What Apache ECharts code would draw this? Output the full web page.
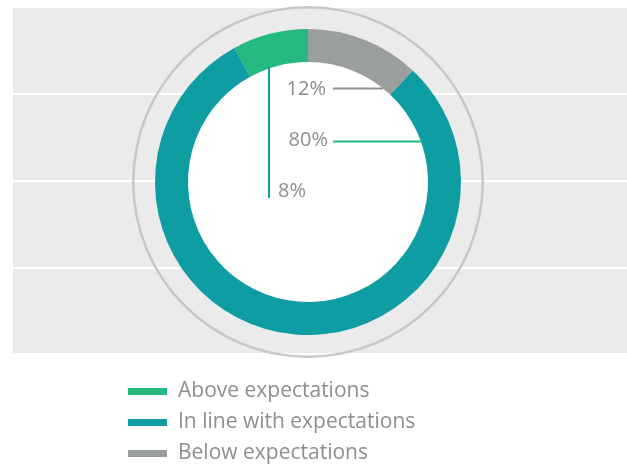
<!DOCTYPE html>
<html>
<head>
<meta charset="utf-8">
<script src="https://cdn.jsdelivr.net/npm/echarts@6/dist/echarts.min.js"></script>
<style>
  html, body { margin: 0; padding: 0; background: #ffffff; }
  #chart { width: 627px; height: 465px; }
</style>
</head>
<body>
<div id="chart"></div>
<script>
// Survey outcome shares (percent)
const categories = ['Above expectations', 'In line with expectations', 'Below expectations'];
const shares = [8, 80, 12];
const colors = ['#25b97f', '#0e9da3', '#9a9e9d'];

// Background bands behind the donut
const bandTicks = [0, 1, 2, 3, 4];

const chart = echarts.init(document.getElementById('chart'), null, { renderer: 'canvas' });

const labelFont = '"Open Sans", Lato, sans-serif';
const textGrey = '#8b8f8e';

const pct = v => v + '%';

const option = {
  animation: false,
  backgroundColor: '#ffffff',
  grid: {
    left: 13, right: 0, top: 7, bottom: 111,
    show: true, backgroundColor: '#ebebeb', borderWidth: 0
  },
  xAxis: { type: 'value', show: false, min: 0, max: 1 },
  yAxis: {
    type: 'value',
    min: bandTicks[0], max: bandTicks[bandTicks.length - 1], interval: 1,
    axisLine: { show: false }, axisTick: { show: false }, axisLabel: { show: false },
    splitLine: { show: true, lineStyle: { color: '#ffffff', width: 2 } }
  },
  legend: {
    orient: 'vertical',
    left: 128, top: 380, height: 90,
    padding: 0,
    icon: 'rect',
    itemWidth: 39, itemHeight: 7,
    itemGap: 8,
    data: categories,
    textStyle: { color: textGrey, fontSize: 21, fontFamily: labelFont, lineHeight: 23, padding: [0, 0, 0, 6] },
    selectedMode: false
  },
  series: [
    {
      // thin outer frame ring
      type: 'pie',
      silent: true,
      center: [308, 182],
      radius: [173.5, 176],
      label: { show: false },
      labelLine: { show: false },
      itemStyle: { color: '#c6c7c7' },
      data: [{ value: 1, name: 'frame' }]
    },
    {
      // white disc inside the donut
      type: 'pie',
      silent: true,
      center: [308, 182],
      radius: [0, 121],
      label: { show: false },
      labelLine: { show: false },
      itemStyle: { color: '#ffffff' },
      data: [{ value: 1, name: 'inner' }]
    },
    {
      type: 'pie',
      center: [308, 182],
      radius: [120, 153],
      startAngle: 90,
      clockwise: false,
      silent: true,
      label: { show: false },
      labelLine: { show: false },
      data: categories.map((c, i) => ({ name: c, value: shares[i], itemStyle: { color: colors[i] } }))
    }
  ],
  graphic: {
    elements: [
      // Below expectations
      { type: 'text', z: 100, x: 326, y: 79.5, style: { text: pct(shares[2]), fill: textGrey, font: '20px ' + labelFont, textAlign: 'right' } },
      { type: 'line', z: 100, shape: { x1: 333, y1: 88.5, x2: 383, y2: 88.5 }, style: { stroke: '#8e9291', lineWidth: 2 } },
      // In line with expectations
      { type: 'text', z: 100, x: 328, y: 130.5, style: { text: pct(shares[1]), fill: textGrey, font: '20px ' + labelFont, textAlign: 'right' } },
      { type: 'line', z: 100, shape: { x1: 333, y1: 141.5, x2: 422, y2: 141.5 }, style: { stroke: colors[0], lineWidth: 2 } },
      // Above expectations
      { type: 'line', z: 100, shape: { x1: 269, y1: 66, x2: 269, y2: 198 }, style: { stroke: colors[1], lineWidth: 2 } },
      { type: 'text', z: 100, x: 278, y: 181.5, style: { text: pct(shares[0]), fill: textGrey, font: '20px ' + labelFont } }
    ]
  }
};

chart.setOption(option);
</script>
</body>
</html>
